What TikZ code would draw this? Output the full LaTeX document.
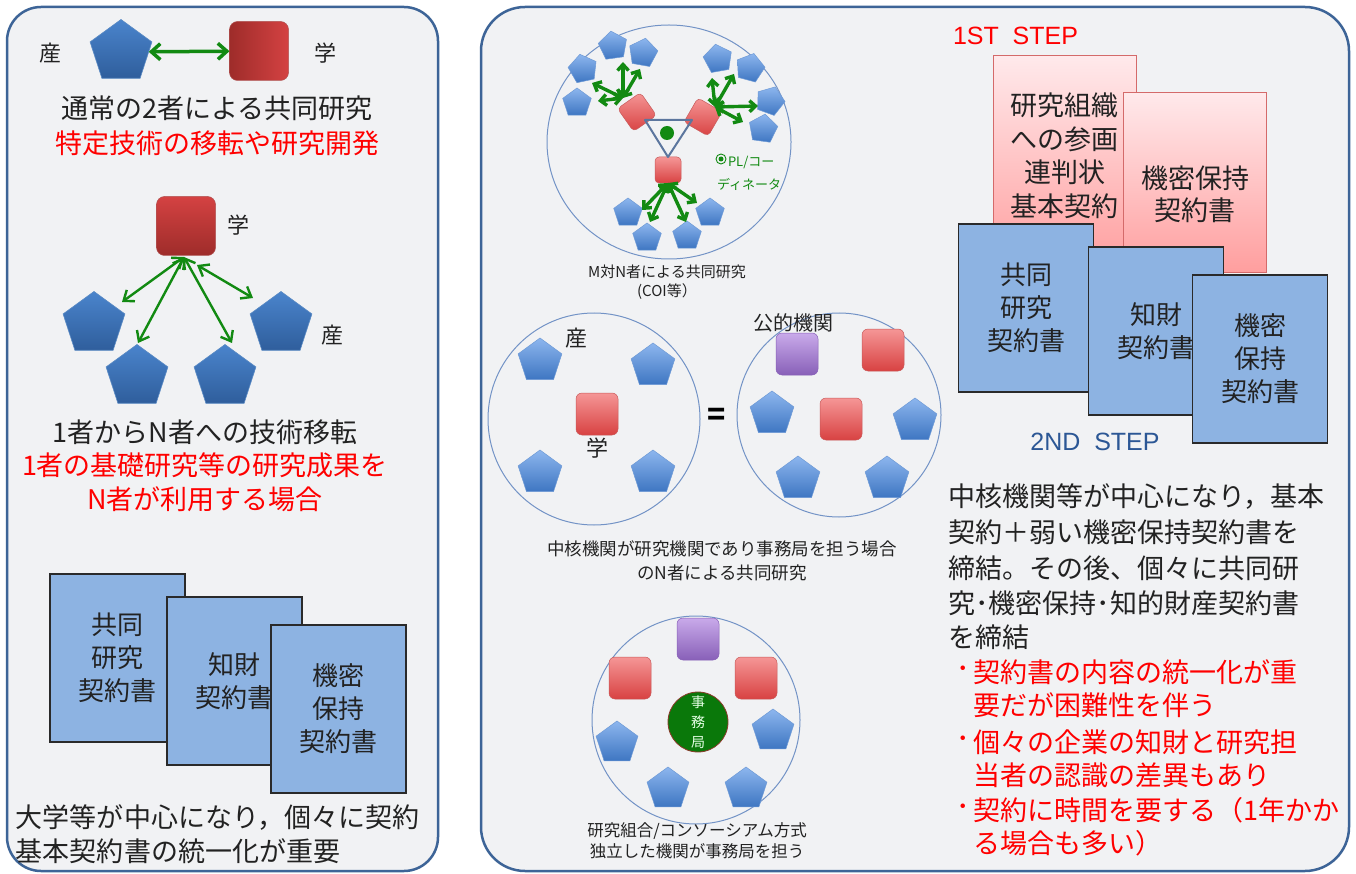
\documentclass[tikz,border=0pt]{standalone}
\usepackage{fontspec}
\newfontfamily\jp{Noto Sans CJK JP}
\newfontfamily\lat{Liberation Sans}
\usetikzlibrary{shapes.geometric,arrows.meta}
\definecolor{panelEdge}{HTML}{3D6497}
\definecolor{panelFill}{HTML}{F1F2F4}
\definecolor{ink}{HTML}{222222}
\definecolor{redtxt}{HTML}{FF0000}
\definecolor{grn}{HTML}{128A12}
\definecolor{docFill}{HTML}{8DB3E2}
\definecolor{docEdge}{HTML}{2A2A2A}
\definecolor{pinkTop}{HTML}{FFE9EB}
\definecolor{pinkBot}{HTML}{FF9E9E}
\definecolor{pinkEdge}{HTML}{D46A6A}
\definecolor{stepBlue}{HTML}{2C5795}
\definecolor{ringEdge}{HTML}{7393C6}
\definecolor{pentTopL}{HTML}{4A84CC}
\definecolor{pentBotL}{HTML}{2F5E9C}
\definecolor{pentEdgeL}{HTML}{5B8BC4}
\definecolor{pentTopR}{HTML}{8DB6EE}
\definecolor{pentBotR}{HTML}{3E76C2}
\definecolor{pentEdgeR}{HTML}{6E9AD6}
\definecolor{sqDark}{HTML}{9E2C2A}
\definecolor{sqLight}{HTML}{D44242}
\definecolor{sqTopR}{HTML}{F59696}
\definecolor{sqBotR}{HTML}{D84242}
\definecolor{sqEdgeR}{HTML}{C85A5A}
\definecolor{purTop}{HTML}{C9AAEA}
\definecolor{purBot}{HTML}{8860B8}
\definecolor{jimuFill}{HTML}{0A780A}
\definecolor{jimuEdge}{HTML}{8A3A2A}
\newcommand\fsz[2]{\fontsize{#1}{#2}\selectfont}
\begin{document}
\begin{tikzpicture}[x=1pt,y=-1pt,
  every node/.style={inner sep=0pt, outer sep=0pt, font=\jp},
  panel/.style={draw=panelEdge, fill=panelFill, line width=2.5pt},
  pentL/.style={regular polygon, regular polygon sides=5, minimum size=65pt, top color=pentTopL, bottom color=pentBotL, draw=pentEdgeL, line width=0.6pt},
  pentR/.style={regular polygon, regular polygon sides=5, minimum size=#1, top color=pentTopR, bottom color=pentBotR, draw=pentEdgeR, line width=0.5pt},
  pentR/.default=46pt,
  sqL/.style={rounded corners=8pt, minimum size=59pt, draw=sqDark!80, line width=0.5pt},
  sqR/.style={rounded corners=6pt, minimum size=#1, top color=sqTopR, bottom color=sqBotR, draw=sqEdgeR, line width=0.5pt},
  sqR/.default=42pt,
  sqP/.style={rounded corners=6pt, minimum size=42pt, top color=purTop, bottom color=purBot, draw=purBot, line width=0.5pt},
  ring/.style={draw=ringEdge, line width=1pt},
  doc/.style={draw=docEdge, fill=docFill, line width=1.5pt, minimum width=135pt, minimum height=168pt, align=center, font=\jp\fsz{26}{33}, text=ink},
  pinkdoc/.style={draw=pinkEdge, top color=pinkTop, bottom color=pinkBot, line width=1pt, minimum width=143pt},
  big/.style={font=\jp\fsz{27}{34}, text=ink},
  bigred/.style={font=\jp\fsz{27}{34}, text=redtxt},
  lbl/.style={font=\jp\fsz{22}{26}, text=ink},
  captxt/.style={font=\jp\fsz{16}{21}, text=ink, align=center},
  biL/.style={draw=grn, line width=2.4pt, >={Straight Barb[length=9pt,width=14pt]}, <->},
  biS/.style={draw=grn, line width=3.4pt, >={Straight Barb[length=6pt,width=11pt]}, <->}
]
\useasboundingbox (0,0) rectangle (1356,874);
\fill[white] (0,0) rectangle (1356,874);
% panels
\draw[panel, rounded corners=34pt] (7,7) rectangle (438,871);
\draw[panel, rounded corners=44pt] (481,7) rectangle (1349,871);

% ---------- left panel ----------
\node[lbl] (lsan1) at (50,53) {産};
\node[pentL] (lp1) at (121,52) {};
\node[sqL, left color=sqDark, right color=sqLight] (ls1) at (259,51) {};
\node[lbl] (lgaku1) at (325,53) {学};
\draw[draw=grn, line width=3.5pt, >={Straight Barb[length=9pt,width=16pt]}, <->] (lp1) -- (ls1);
\node[big] (lt1) at (217,108) {通常の2者による共同研究};
\node[bigred] (lt2) at (217,143) {特定技術の移転や研究開発};

\node[sqL, top color=sqLight, bottom color=sqDark] (ls2) at (186,226) {};
\node[lbl] (lgaku2) at (238,225) {学};
\node[pentL] (lpa) at (94,324) {};
\node[pentL] (lpb) at (137,377) {};
\node[pentL] (lpc) at (225,377) {};
\node[pentL] (lpd) at (281,324) {};
\node[lbl] (lsan2) at (332,335) {産};
\coordinate (f0) at (184,257);
\coordinate (f1) at (197,265);
\coordinate (fa) at (122,302);
\coordinate (fb) at (138,343);
\coordinate (fc) at (232,343);
\coordinate (fd) at (253,298);
\draw[biL] (f0) -- (fa);
\draw[biL] (f0) -- (fb);
\draw[biL] (f0) -- (fc);
\draw[biL] (f1) -- (fd);
\node[big] (lt3) at (205,432) {1者からN者への技術移転};
\node[bigred] (lt4) at (205,465) {1者の基礎研究等の研究成果を};
\node[bigred] (lt5) at (205,499) {N者が利用する場合};

\node[doc] (ld1) at (117.5,658) {共同\\研究\\契約書};
\node[doc] (ld2) at (234.5,681) {知財\\契約書};
\node[doc] (ld3) at (338.5,709) {機密\\保持\\契約書};
\node[big, anchor=west] (lt6) at (16,818) {大学等が中心になり，個々に契約};
\node[big, anchor=west] (lt7) at (16,851) {基本契約書の統一化が重要};

% ---------- circle 1 ----------
\node[ring, ellipse, minimum width=244pt, minimum height=234pt] (c1) at (669,142) {};
\node[pentR=30pt, rotate=8] (c1p1) at (613,46) {};
\node[pentR=30pt, rotate=-10] (c1p2) at (643,53) {};
\node[pentR=30pt, rotate=12] (c1p3) at (583,69) {};
\node[pentR=30pt] (c1p4) at (577,103) {};
\node[pentR=30pt, rotate=10] (c1p5) at (718,59) {};
\node[pentR=30pt, rotate=-15] (c1p6) at (750,68) {};
\node[pentR=30pt, rotate=-20] (c1p7) at (770,101) {};
\node[pentR=30pt, rotate=-8] (c1p8) at (763,129) {};
\node[pentR=30pt] (c1p9) at (628,213) {};
\node[pentR=30pt] (c1p10) at (710,213) {};
\node[pentR=30pt] (c1p11) at (647,238) {};
\node[pentR=30pt] (c1p12) at (687,236) {};
\node[sqR=28pt, rotate=35, rounded corners=4pt] (c1s1) at (637,112) {};
\node[sqR=28pt, rotate=-30, rounded corners=4pt] (c1s2) at (703,117) {};
\node[sqR=26pt, rounded corners=4pt] (c1s3) at (668,170) {};
\coordinate (tv1) at (645,120);
\coordinate (tv2) at (692,120);
\coordinate (tv3) at (668,157);
\draw[draw=ringEdge!80!black, line width=2pt, line join=round] (tv1) -- (tv2) -- (tv3) -- cycle;
\node[circle, fill=grn, minimum size=14pt] (c1dot) at (667,133) {};
% arrows group A
\coordinate (ga) at (623,98);
\coordinate (ga1) at (623,62);
\coordinate (ga2) at (640,69);
\coordinate (ga3) at (592,83);
\coordinate (ga4) at (598,101);
\foreach \e in {ga1,ga2,ga3,ga4} \draw[biS] (ga) -- (\e);
\coordinate (gb) at (715,107);
\coordinate (gb1) at (712,78);
\coordinate (gb2) at (734,74);
\coordinate (gb3) at (758,106);
\coordinate (gb4) at (743,122);
\foreach \e in {gb1,gb2,gb3,gb4} \draw[biS] (gb) -- (\e);
\coordinate (gc) at (668,183);
\coordinate (gc1) at (642,210);
\coordinate (gc2) at (650,222);
\coordinate (gc3) at (686,222);
\coordinate (gc4) at (697,203);
\foreach \e in {gc1,gc2,gc3,gc4} \draw[biS] (gc) -- (\e);
\node[circle, draw=grn, line width=0.9pt, minimum size=10pt] (plmark) at (721,159) {};
\node[circle, fill=grn, minimum size=5pt] (pldot) at (plmark) {};
\node[anchor=west, font=\jp\fsz{13}{16}, text=grn] (pl1) at (728,163) {PL/コー};
\node[anchor=west, font=\jp\fsz{13}{16}, text=grn] (pl2) at (717,184) {ディネータ};
\node[captxt, font=\jp\fsz{15}{19}] (c1cap) at (667,282) {M対N者による共同研究\\(COI等）};

% ---------- circle 2 and 3 ----------
\node[ring, circle, minimum size=212pt] (c2) at (594,419) {};
\node[pentR] (c2p1) at (540,361) {};
\node[pentR] (c2p2) at (653,366) {};
\node[pentR] (c2p3) at (540,473) {};
\node[pentR] (c2p4) at (653,473) {};
\node[sqR] (c2s) at (597,414) {};
\node[lbl] (c2san) at (576,338) {産};
\node[lbl] (c2gaku) at (597,448) {学};
\node[font=\jp\bfseries\fsz{30}{30}, text=black] (eq) at (717,417) {=};
\node[ring, circle, minimum size=204pt] (c3) at (839,415) {};
\node[font=\jp\fsz{20}{24}, text=ink] (c3lbl) at (793,323) {公的機関};
\node[sqP] (c3pu) at (797,354) {};
\node[sqR] (c3s1) at (883,350) {};
\node[sqR] (c3s2) at (841,419) {};
\node[pentR] (c3p1) at (772,414) {};
\node[pentR] (c3p2) at (915,421) {};
\node[pentR] (c3p3) at (798,479) {};
\node[pentR] (c3p4) at (887,479) {};
\node[captxt, font=\jp\fsz{17.5}{24}] (c23cap) at (722,561) {中核機関が研究機関であり事務局を担う場合\\のN者による共同研究};

% ---------- circle 4 ----------
\node[ring, circle, minimum size=208pt] (c4) at (696,720) {};
\node[sqP] (c4pu) at (698,639) {};
\node[sqR] (c4s1) at (630,678) {};
\node[sqR] (c4s2) at (756,678) {};
\node[pentR=44pt] (c4p1) at (617,743) {};
\node[pentR=44pt] (c4p2) at (773,731) {};
\node[pentR=44pt] (c4p3) at (668,789) {};
\node[pentR=44pt] (c4p4) at (746,789) {};
\node[circle, fill=jimuFill, draw=jimuEdge, line width=0.8pt, minimum size=60pt] (jimu) at (698,722) {};
\node[font=\jp\fsz{14}{20}, text=green!10, align=center] (jimut) at (698,722) {事\\務\\局};
\node[captxt, font=\jp\fsz{16.5}{21}] (c4cap) at (697,841) {研究組合/コンソーシアム方式\\独立した機関が事務局を担う};

% ---------- right documents ----------
\node[font=\lat\fsz{25}{25}, text=redtxt, anchor=west] (step1) at (953,36) {1ST\ \ STEP};
\node[pinkdoc, minimum height=214pt] (pk1) at (1064.5,163) {};
\node[font=\jp\fsz{27}{33.5}, text=ink, align=center] (pk1t) at (1064.5,156) {研究組織\\への参画\\連判状\\基本契約};
\node[pinkdoc, minimum height=180pt] (pk2) at (1194.5,183) {};
\node[font=\jp\fsz{27}{32}, text=ink, align=center] (pk2t) at (1195,194) {機密保持\\契約書};
\node[doc] (rd1) at (1026,308) {共同\\研究\\契約書};
\node[doc] (rd2) at (1156,331) {知財\\契約書};
\node[doc] (rd3) at (1260,359) {機密\\保持\\契約書};
\node[font=\lat\fsz{25}{25}, text=stepBlue] (step2) at (1095,442) {2ND\ \ STEP};

% paragraph
\node[big, anchor=west] (pa1) at (948,497) {中核機関等が中心になり，基本};
\node[big, anchor=west] (pa2) at (948,532) {契約＋弱い機密保持契約書を};
\node[big, anchor=west] (pa3) at (948,568) {締結。その後、個々に共同研};
\node[big, anchor=west] (pa4) at (948,603) {究･機密保持･知的財産契約書};
\node[big, anchor=west] (pa5) at (948,637) {を締結};
% red bullets
\node[bigred] (b1) at (963,672) {･};
\node[bigred, anchor=west] (r1) at (973,672) {契約書の内容の統一化が重};
\node[bigred, anchor=west] (r2) at (973,705) {要だが困難性を伴う};
\node[bigred] (b2) at (963,742) {･};
\node[bigred, anchor=west] (r3) at (973,742) {個々の企業の知財と研究担};
\node[bigred, anchor=west] (r4) at (973,775) {当者の認識の差異もあり};
\node[bigred] (b3) at (963,810) {･};
\node[bigred, anchor=west] (r5) at (973,810) {契約に時間を要する（1年かか};
\node[bigred, anchor=west] (r6) at (973,843) {る場合も多い）};
\end{tikzpicture}
\end{document}
